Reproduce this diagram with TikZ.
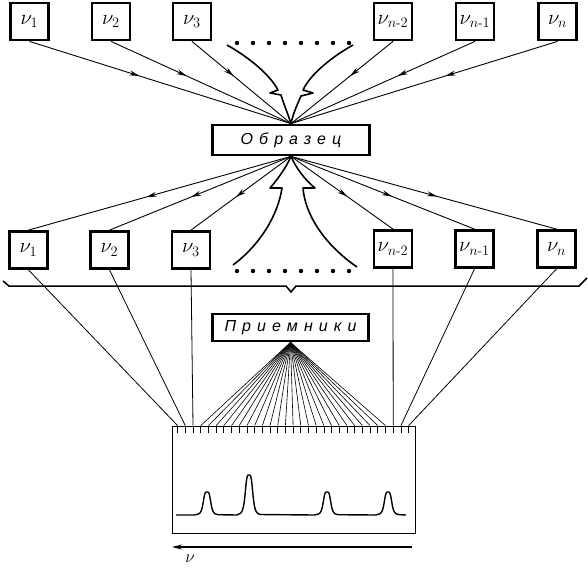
\documentclass[tikz,border=0pt]{standalone}
\usepackage{amsmath}
\usepackage{fontspec}
\newfontfamily\sparsefont[LetterSpace=38]{Liberation Sans}
\usetikzlibrary{arrows.meta}
\usetikzlibrary{decorations.markings}
\usetikzlibrary{calc}

\tikzset{
  freqbox/.style={draw, line width=2.8pt, minimum width=38pt, minimum height=37pt, inner sep=0pt, font=\fontsize{20}{20}\selectfont},
  wordbox/.style={draw, line width=2.8pt, inner sep=0pt, font=\fontsize{16}{16}\selectfont\sparsefont\itshape},
  ray/.style={line width=0.9pt, postaction={decorate}, decoration={markings, mark=at position #1 with {\arrow{Stealth[length=10pt,width=5pt]}}}},
  ray/.default=0.5,
  bolt/.style={line width=1.6pt, line join=round},
  wire/.style={line width=0.8pt},
}

\begin{document}
\begin{tikzpicture}[x=1pt,y=-1pt]
\useasboundingbox (0,0) rectangle (588,571);

% sources
\node[freqbox] (t1) at (29.5,21.5) {$\nu_1$};
\node[freqbox] (t2) at (111,21.5) {$\nu_2$};
\node[freqbox] (t3) at (192,21.5) {$\nu_3$};
\node[freqbox] (tn2) at (393,21.5) {$\nu_{n\text{-}2}$};
\node[freqbox] (tn1) at (475,21.5) {$\nu_{n\text{-}1}$};
\node[freqbox] (tn) at (557.5,21.5) {$\nu_n$};
\foreach \i in {0,...,7} \fill (237+16*\i,43) circle (2.2pt);

\node[wordbox, minimum width=157pt, minimum height=30pt] (sample) at (291,140) {Образец};

\foreach \s in {t1,t2,t3,tn2,tn1,tn}
  \draw[ray=0.42] (\s.south) -- (sample.north);

\coordinate (ul) at (227,45);
\coordinate (ur) at (353,45);
\draw[bolt] (ul) .. controls (250,58) and (270,75) .. (278,90) -- (270,93) -- (281,95)
  .. controls (284,105) and (288,114) .. (sample.north);
\draw[bolt] (ur) .. controls (330,58) and (310,75) .. (303,90) -- (313,93) -- (301,96)
  .. controls (297,105) and (293,114) .. (sample.north);

% detectors
\node[freqbox] (b1) at (28.5,250) {$\nu_1$};
\node[freqbox] (b2) at (109.5,250) {$\nu_2$};
\node[freqbox] (b3) at (191,250) {$\nu_3$};
\node[freqbox] (bn2) at (393,249) {$\nu_{n\text{-}2}$};
\node[freqbox] (bn1) at (474.5,249) {$\nu_{n\text{-}1}$};
\node[freqbox] (bn) at (556.5,249) {$\nu_n$};
\foreach \i in {0,...,7} \fill (237+16*\i,271) circle (2.2pt);

\foreach \s in {b1,b2,b3,bn2,bn1,bn}
  \draw[ray=0.55] (sample.south) -- (\s.north);

\coordinate (bl) at (233,265);
\coordinate (br) at (357,267);
\draw[bolt] (sample.south) .. controls (286,168) and (277,180) .. (270,188) -- (282,188)
  .. controls (278,215) and (260,245) .. (bl);
\draw[bolt] (sample.south) .. controls (296,168) and (305,180) .. (315,188) -- (303,188)
  .. controls (305,215) and (325,245) .. (br);

\draw[line width=1.5pt] (3,281) -- (9,286) -- (286,286) -- (291,292) -- (296,286) -- (579,286) -- (587,278);

\node[wordbox, minimum width=156pt, minimum height=27pt] (recv) at (290.5,327.5) {Приемники};

% spectrum
\node[draw, line width=0.8pt, minimum width=243pt, minimum height=107pt, inner sep=0pt] (spec) at (293.5,479.5) {};
\foreach \k in {0,...,30} {
  \coordinate (k\k) at ($(spec.north west)+(6+7.7*\k,0)$);
  \draw[wire] (k\k) -- ++(0,7);
}
\foreach \k in {3,...,27}
  \draw[line width=0.6pt] (recv.south) -- (k\k);

\draw[wire] (b1.south) -- (k0);
\draw[wire] (b2.south) -- (k1);
\draw[wire] (b3.south) -- (k2);
\draw[wire] (bn2.south) -- (k28);
\draw[wire] (bn1.south) -- (k29);
\draw[wire] (bn.south) -- (k30);

\draw[line width=1.4pt, line join=round] (176,515)
  \foreach \p/\h in {207/23,249/40,327/23,388/23} {
    -- (\p-12,515) -- plot[domain=\p-12:\p+12, samples=49] (\x,{515-\h/(1+((\x-\p)/4)^4)})
  } -- (406,515);

\coordinate (axR) at (412,547);
\coordinate (axL) at (172,547);
\draw[line width=1.2pt, -{Stealth[length=10pt,width=5pt]}] (axR) -- (axL);
\node[font=\fontsize{17}{17}\selectfont] (nu) at (190,559) {$\nu$};

\end{tikzpicture}
\end{document}
